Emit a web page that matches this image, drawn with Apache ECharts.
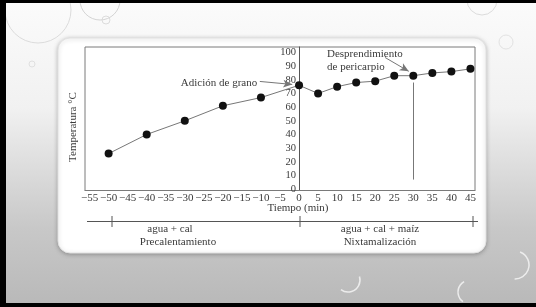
<!DOCTYPE html>
<html>
<head>
<meta charset="utf-8">
<script src="https://cdn.jsdelivr.net/npm/echarts@6/dist/echarts.min.js"></script>
<style>
  html, body { margin: 0; padding: 0; background: #000; }
  #chart { width: 536px; height: 307px; }
</style>
</head>
<body>
<div id="chart"></div>
<script>
// datos
var tiempos = [-50, -40, -30, -20, -10, 0, 5, 10, 15, 20, 25, 30, 35, 40, 45];
var temperaturas = [26, 40, 50, 61, 67, 76, 70, 75, 78, 79, 83, 83, 85, 86, 88];
var xTicks = [-55, -50, -45, -40, -35, -30, -25, -20, -15, -10, -5, 0, 5, 10, 15, 20, 25, 30, 35, 40, 45];
var yTicks = [0, 10, 20, 30, 40, 50, 60, 70, 80, 90, 100];

var serif = "Liberation Serif";
var txt = "#3a3a3a";

var xMin = -56.2, xMax = 46.2;
var gridLeft = 85, gridRight = 61, chartW = 536;
// el eje Y se dibuja sobre x = 0
var yOffset = -(0 - xMin) / (xMax - xMin) * (chartW - gridLeft - gridRight);

var chart = echarts.init(document.getElementById("chart"));

var puntos = tiempos.map(function (t, i) { return [t, temperaturas[i]]; });

chart.setOption({
  animation: false,
  grid: {
    left: gridLeft, right: gridRight, top: 47, bottom: 116.5,
    show: true, borderColor: "#7a7a7a", borderWidth: 1, backgroundColor: "#fff"
  },
  xAxis: {
    type: "value", min: xMin, max: xMax,
    splitLine: { show: false },
    axisLine: { show: true, onZero: false, lineStyle: { color: "#7a7a7a" } },
    axisTick: { show: false },
    axisLabel: {
      customValues: xTicks, margin: 2,
      fontFamily: serif, fontSize: 11, color: txt,
      formatter: function (v) { return String(v).replace("-", "\u2212"); }
    }
  },
  yAxis: {
    type: "value", min: -1, max: 104,
    position: "left", offset: yOffset,
    splitLine: { show: false },
    axisLine: { show: true, onZero: false, lineStyle: { color: "#555" } },
    axisTick: { show: false },
    axisLabel: {
      customValues: yTicks, margin: 3,
      fontFamily: serif, fontSize: 10.5, color: txt
    }
  },
  series: [{
    type: "line",
    data: puntos,
    symbol: "circle", symbolSize: 8,
    itemStyle: { color: "#111" },
    lineStyle: { color: "#777", width: 1 },
    markLine: {
      silent: true,
      symbol: "none",
      label: { show: false },
      lineStyle: { color: "#777", width: 1, type: "solid" },
      data: [
        [{ coord: [30, 78] }, { coord: [30, 7] }],
        [{ coord: [-10.3, 78.8], symbol: "none" }, { coord: [-1.8, 76.6], symbol: "arrow", symbolSize: [6, 9] }],
        [{ coord: [22.6, 96.3], symbol: "none" }, { coord: [28.8, 86.2], symbol: "arrow", symbolSize: [6, 9] }]
      ]
    }
  }],
  graphic: [
    // fondo de la diapositiva
    { type: "rect", z: -20, shape: { x: 6, y: 3, width: 530, height: 300 },
      style: { fill: new echarts.graphic.LinearGradient(0, 0, 0, 1, [
        { offset: 0, color: "#fbfbfb" },
        { offset: 0.35, color: "#f1f1f1" },
        { offset: 0.75, color: "#c8c8c8" },
        { offset: 1, color: "#b9b9b9" }
      ]) } },
    { type: "circle", z: -19, shape: { cx: 38, cy: 10, r: 33 }, style: { fill: "none", stroke: "#dcdcdc", lineWidth: 1 } },
    { type: "circle", z: -19, shape: { cx: 100, cy: 0, r: 20 }, style: { fill: "none", stroke: "#d4d4d4", lineWidth: 1 } },
    { type: "circle", z: -19, shape: { cx: 106, cy: 20, r: 4 }, style: { fill: "none", stroke: "#dcdcdc", lineWidth: 1 } },
    { type: "circle", z: -19, shape: { cx: 32, cy: 64, r: 3 }, style: { fill: "none", stroke: "#e0e0e0", lineWidth: 1 } },
    { type: "circle", z: -19, shape: { cx: 482, cy: 0, r: 15 }, style: { fill: "none", stroke: "#dcdcdc", lineWidth: 1 } },
    { type: "circle", z: -19, shape: { cx: 506, cy: 42, r: 7 }, style: { fill: "none", stroke: "#e2e2e2", lineWidth: 1 } },
    { type: "arc", z: -19, shape: { cx: 515, cy: 265, r: 14, startAngle: -1.2, endAngle: 1.6 }, style: { fill: "none", stroke: "#ececec", lineWidth: 1.5 } },
    { type: "arc", z: -19, shape: { cx: 348, cy: 280, r: 12, startAngle: -0.3, endAngle: 2.2 }, style: { fill: "none", stroke: "#ececec", lineWidth: 1.5 } },
    { type: "arc", z: -19, shape: { cx: 470, cy: 292, r: 12, startAngle: 2.2, endAngle: 4.2 }, style: { fill: "none", stroke: "#ececec", lineWidth: 1.5 } },
    // panel blanco
    { type: "rect", z: -18, shape: { x: 58, y: 38, width: 428, height: 215, r: 12 },
      style: { fill: "#fff", stroke: "#e2e2e2", lineWidth: 1, shadowBlur: 4, shadowColor: "rgba(0,0,0,0.25)", shadowOffsetY: 1 } },
    // bordes negros
    { type: "rect", z: 50, shape: { x: 0, y: 0, width: 536, height: 3 }, style: { fill: "#000" } },
    { type: "rect", z: 50, shape: { x: 0, y: 0, width: 6, height: 307 }, style: { fill: "#000" } },
    { type: "rect", z: 50, shape: { x: 0, y: 303, width: 536, height: 4 }, style: { fill: "#000" } },
    // títulos de ejes
    { type: "text", x: 73, y: 127, rotation: Math.PI / 2, z: 10,
      style: { text: "Temperatura °C", font: "11px " + serif, fill: txt, align: "center", verticalAlign: "middle" } },
    { type: "text", x: 298, y: 208, z: 10,
      style: { text: "Tiempo (min)", font: "11px " + serif, fill: txt, align: "center", verticalAlign: "middle" } },
    // anotaciones
    { type: "text", x: 219, y: 83, z: 10,
      style: { text: "Adición de grano", font: "11px " + serif, fill: txt, align: "center", verticalAlign: "middle" } },
    { type: "text", x: 327, y: 54, z: 10,
      style: { text: "Desprendimiento", font: "11px " + serif, fill: txt, align: "left", verticalAlign: "middle" } },
    { type: "text", x: 327, y: 67, z: 10,
      style: { text: "de pericarpio", font: "11px " + serif, fill: txt, align: "left", verticalAlign: "middle" } },
    // línea de etapas
    { type: "line", z: 10, shape: { x1: 87, y1: 221.5, x2: 478, y2: 221.5 }, style: { stroke: "#555", lineWidth: 1 } },
    { type: "line", z: 10, shape: { x1: 112, y1: 216, x2: 112, y2: 227 }, style: { stroke: "#555", lineWidth: 1 } },
    { type: "line", z: 10, shape: { x1: 300, y1: 216, x2: 300, y2: 227 }, style: { stroke: "#555", lineWidth: 1 } },
    { type: "line", z: 10, shape: { x1: 473, y1: 216, x2: 473, y2: 227 }, style: { stroke: "#555", lineWidth: 1 } },
    { type: "text", x: 170, y: 229, z: 10,
      style: { text: "agua + cal", font: "11px " + serif, fill: txt, align: "center", verticalAlign: "middle" } },
    { type: "text", x: 178, y: 242, z: 10,
      style: { text: "Precalentamiento", font: "11px " + serif, fill: txt, align: "center", verticalAlign: "middle" } },
    { type: "text", x: 380, y: 229, z: 10,
      style: { text: "agua + cal + maíz", font: "11px " + serif, fill: txt, align: "center", verticalAlign: "middle" } },
    { type: "text", x: 380, y: 242, z: 10,
      style: { text: "Nixtamalización", font: "11px " + serif, fill: txt, align: "center", verticalAlign: "middle" } }
  ]
});
</script>
</body>
</html>
